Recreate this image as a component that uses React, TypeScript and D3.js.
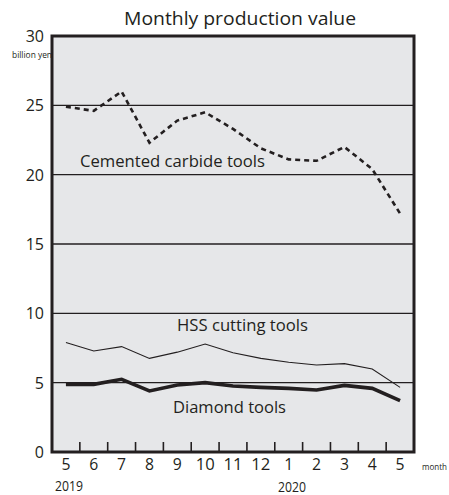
import React from "react";
import * as d3 from "d3";

const months = ["5", "6", "7", "8", "9", "10", "11", "12", "1", "2", "3", "4", "5"];
const cemented = [24.9, 24.6, 26.0, 22.3, 23.9, 24.5, 23.3, 21.9, 21.1, 21.0, 22.0, 20.4, 17.2];
const hss = [7.9, 7.28, 7.6, 6.75, 7.2, 7.79, 7.16, 6.75, 6.47, 6.27, 6.37, 5.99, 4.66];
const diamond = [4.88, 4.88, 5.24, 4.4, 4.83, 5.0, 4.76, 4.66, 4.59, 4.47, 4.8, 4.59, 3.7];
const yTicks = [0, 5, 10, 15, 20, 25, 30];
const gridValues = [5, 10, 15, 20, 25];

const W = 449;
const H = 495;
const L = 52, R = 414, T = 36, B = 452;
const FONT = "'Open Sans', 'Noto Sans', sans-serif";
const INK = "#231f20";

export default function App() {
  const x = d3.scaleBand<number>().domain(d3.range(months.length)).range([L, R]).padding(0);
  const y = d3.scaleLinear().domain([0, 30]).range([B, T]);
  const cx = (i: number) => (x(i) as number) + x.bandwidth() / 2;
  const line = d3.line<number>().x((_, i) => cx(i)).y((d) => y(d));
  const ticks = d3.range(1, months.length);

  return (
    <div style={{ position: "absolute", left: 0, top: 0 }}>
      <svg width={W} height={H} style={{ display: "block", background: "#fff" }}>
        <text x={240} y={25} fontFamily={FONT} fontSize={17.5} fill={INK} textAnchor="middle" textLength={232} lengthAdjust="spacingAndGlyphs">
          Monthly production value
        </text>
        <rect x={L} y={T} width={R - L} height={B - T} fill="#e6e7e9" />
        {gridValues.map((v) => (
          <line key={v} x1={L} x2={R} y1={y(v)} y2={y(v)} stroke={INK} strokeWidth={1.3} />
        ))}
        {ticks.map((i) => (
          <line key={i} x1={x(i) as number} x2={x(i) as number} y1={B} y2={B - 10} stroke={INK} strokeWidth={1.6} />
        ))}
        <path d={line(hss) || ""} fill="none" stroke={INK} strokeWidth={1.1} />
        <path d={line(diamond) || ""} fill="none" stroke={INK} strokeWidth={3.6} />
        <path d={line(cemented) || ""} fill="none" stroke={INK} strokeWidth={2.6} strokeDasharray="5 4" />
        <rect x={L} y={T} width={R - L} height={B - T} fill="none" stroke={INK} strokeWidth={3} />
        {yTicks.map((v) => (
          <text key={v} x={44} y={y(v) + 6} fontFamily={FONT} fontSize={16} fill={INK} textAnchor="end">
            {v}
          </text>
        ))}
        <text x={12} y={58} fontFamily={FONT} fontSize={9} fill={INK} textLength={40} lengthAdjust="spacingAndGlyphs">
          billion yen
        </text>
        {months.map((m, i) => (
          <text key={i} x={cx(i)} y={470} fontFamily={FONT} fontSize={16} fill={INK} textAnchor="middle" textLength={m.length > 1 ? 19 : 9} lengthAdjust="spacingAndGlyphs">
            {m}
          </text>
        ))}
        <text x={55} y={491} fontFamily={FONT} fontSize={14} fill={INK} textLength={28} lengthAdjust="spacingAndGlyphs">2019</text>
        <text x={278} y={492} fontFamily={FONT} fontSize={14} fill={INK} textLength={28} lengthAdjust="spacingAndGlyphs">2020</text>
        <text x={422} y={470} fontFamily={FONT} fontSize={9} fill={INK} textLength={25} lengthAdjust="spacingAndGlyphs">month</text>
        <text x={80} y={167} fontFamily={FONT} fontSize={16} fill={INK} textLength={185} lengthAdjust="spacingAndGlyphs">Cemented carbide tools</text>
        <text x={177} y={331} fontFamily={FONT} fontSize={16} fill={INK} textLength={131} lengthAdjust="spacingAndGlyphs">HSS cutting tools</text>
        <text x={173} y={413} fontFamily={FONT} fontSize={16} fill={INK} textLength={113} lengthAdjust="spacingAndGlyphs">Diamond tools</text>
      </svg>
    </div>
  );
}
